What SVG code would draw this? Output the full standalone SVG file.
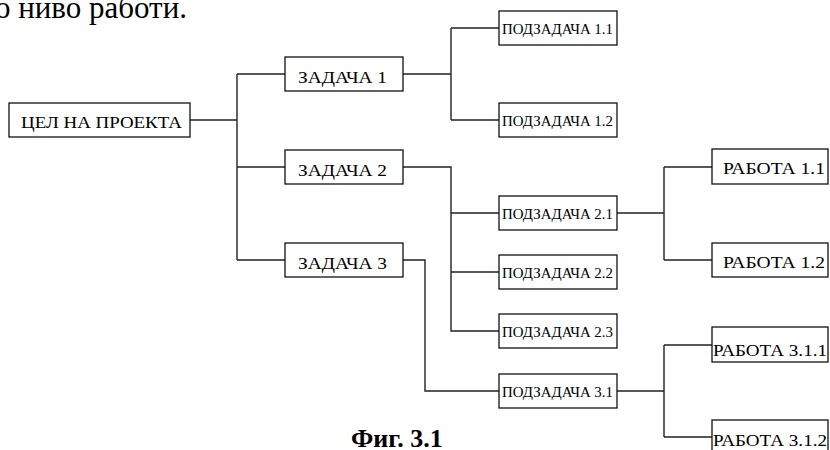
<svg xmlns="http://www.w3.org/2000/svg" width="830" height="450" viewBox="0 0 830 450">
<style>
.b{fill:#fff;stroke:#111;stroke-width:1.3}
.c{fill:none;stroke:#222;stroke-width:1.4}
.t{font-family:"Liberation Serif","Times New Roman",serif;fill:#000}
.m{font-size:16px}
.s{font-size:14px}
.r{font-size:17px}
</style>
<rect width="830" height="450" fill="#fff"/>
<text class="t" x="187" y="18" text-anchor="end" font-size="31">о ниво работи.</text>
<g id="connectors">
<path class="c" d="M190 120H237M237 74V260M237 74H285M237 167H285M237 260H285"/>
<path class="c" d="M403 74H451M451 28V120M451 28H499M451 120H499"/>
<path class="c" d="M403 167H451V331H499M451 213H499M451 272H499"/>
<path class="c" d="M403 260H425V391H499"/>
<path class="c" d="M617 213H664M664 167V260M664 167H712M664 260H712"/>
<path class="c" d="M617 391H664M664 345V437M664 345H712M664 437H712"/>
</g>
<g id="goal"><rect class="b" x="9" y="103" width="181" height="34"/><text class="t m" x="21" y="128" textLength="161" lengthAdjust="spacingAndGlyphs">ЦЕЛ НА ПРОЕКТА</text></g>
<g id="task1"><rect class="b" x="285" y="57" width="118" height="34"/><text class="t m" x="298" y="83" textLength="89" lengthAdjust="spacingAndGlyphs">ЗАДАЧА 1</text></g>
<g id="task2"><rect class="b" x="285" y="150" width="118" height="34"/><text class="t m" x="298" y="176" textLength="89" lengthAdjust="spacingAndGlyphs">ЗАДАЧА 2</text></g>
<g id="task3"><rect class="b" x="285" y="243" width="118" height="34"/><text class="t m" x="298" y="269" textLength="89" lengthAdjust="spacingAndGlyphs">ЗАДАЧА 3</text></g>
<g id="sub11"><rect class="b" x="499" y="11" width="118" height="34"/><text class="t s" x="502" y="34" textLength="111" lengthAdjust="spacingAndGlyphs">ПОДЗАДАЧА 1.1</text></g>
<g id="sub12"><rect class="b" x="499" y="103" width="118" height="34"/><text class="t s" x="502" y="126" textLength="111" lengthAdjust="spacingAndGlyphs">ПОДЗАДАЧА 1.2</text></g>
<g id="sub21"><rect class="b" x="499" y="196" width="118" height="34"/><text class="t s" x="502" y="219" textLength="111" lengthAdjust="spacingAndGlyphs">ПОДЗАДАЧА 2.1</text></g>
<g id="sub22"><rect class="b" x="499" y="255" width="118" height="34"/><text class="t s" x="502" y="278" textLength="111" lengthAdjust="spacingAndGlyphs">ПОДЗАДАЧА 2.2</text></g>
<g id="sub23"><rect class="b" x="499" y="314" width="118" height="34"/><text class="t s" x="502" y="337" textLength="111" lengthAdjust="spacingAndGlyphs">ПОДЗАДАЧА 2.3</text></g>
<g id="sub31"><rect class="b" x="499" y="374" width="118" height="34"/><text class="t s" x="502" y="397" textLength="111" lengthAdjust="spacingAndGlyphs">ПОДЗАДАЧА 3.1</text></g>
<g id="work11"><rect class="b" x="712" y="149" width="116" height="35"/><text class="t r" x="723" y="174" textLength="102" lengthAdjust="spacingAndGlyphs">РАБОТА 1.1</text></g>
<g id="work12"><rect class="b" x="712" y="243" width="116" height="34"/><text class="t r" x="723" y="268" textLength="102" lengthAdjust="spacingAndGlyphs">РАБОТА 1.2</text></g>
<g id="work311"><rect class="b" x="712" y="327" width="116" height="35"/><text class="t r" x="713" y="356" textLength="114" lengthAdjust="spacingAndGlyphs">РАБОТА 3.1.1</text></g>
<g id="work312"><rect class="b" x="712" y="420" width="116" height="35"/><text class="t r" x="713" y="446" textLength="114" lengthAdjust="spacingAndGlyphs">РАБОТА 3.1.2</text></g>
<text class="t" x="351" y="447" font-size="26" font-weight="bold">Фиг. 3.1</text>
</svg>
